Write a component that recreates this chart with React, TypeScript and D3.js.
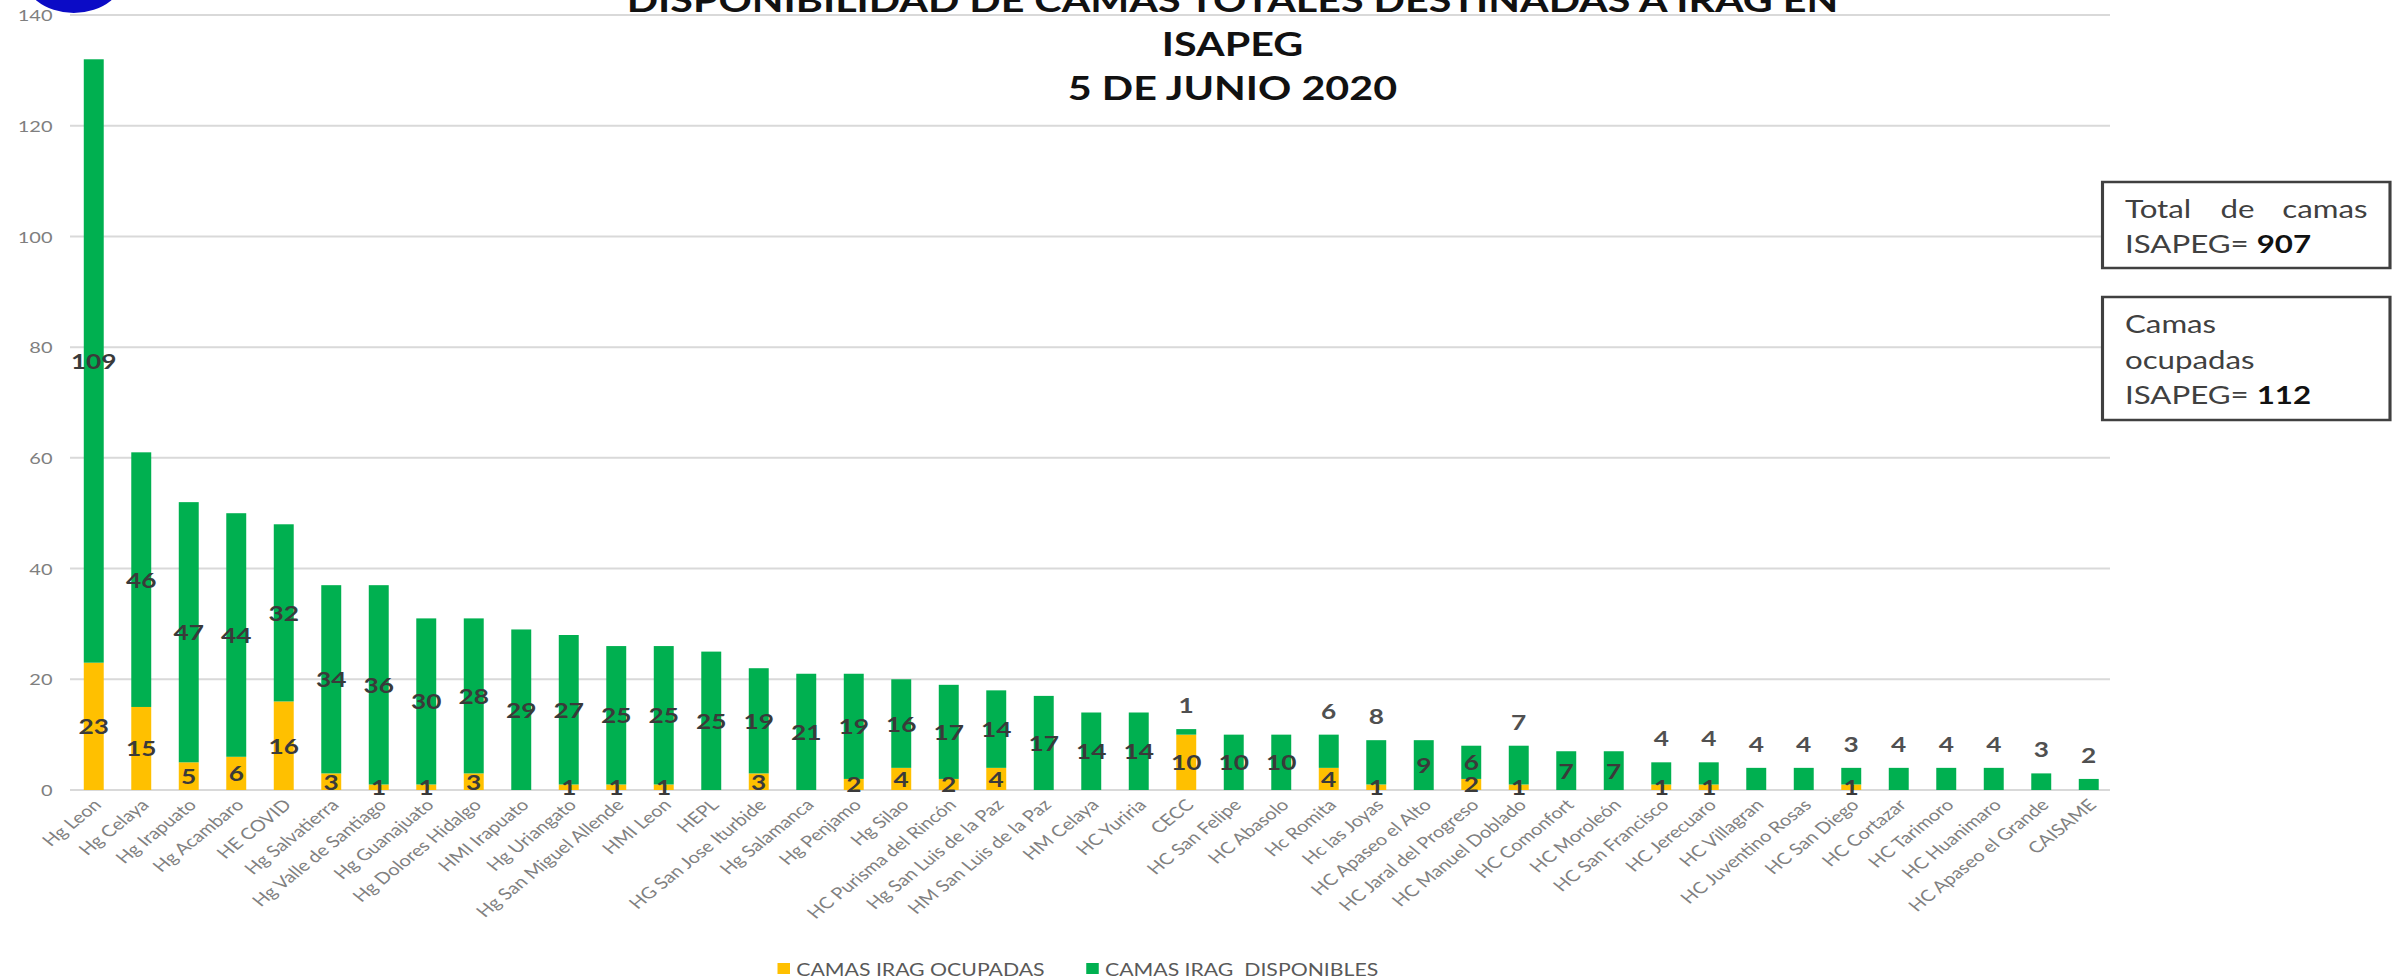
import * as d3 from "d3";

// Hospitals (x axis), in the order shown
const categories = [
  "Hg Leon", "Hg Celaya", "Hg Irapuato", "Hg Acambaro", "HE COVID",
  "Hg Salvatierra", "Hg Valle de Santiago", "Hg Guanajuato", "Hg Dolores Hidalgo",
  "HMI Irapuato", "Hg Uriangato", "Hg San Miguel Allende", "HMI Leon", "HEPL",
  "HG San Jose Iturbide", "Hg Salamanca", "Hg Penjamo", "Hg Silao",
  "HC Purisma del Rincón", "Hg San Luis de la Paz", "HM San Luis de la Paz",
  "HM Celaya", "HC Yuriria", "CECC", "HC San Felipe", "HC Abasolo", "Hc Romita",
  "Hc las Joyas", "HC Apaseo el Alto", "HC Jaral del Progreso", "HC Manuel Doblado",
  "HC Comonfort", "HC Moroleón", "HC San Francisco", "HC Jerecuaro", "HC Villagran",
  "HC Juventino Rosas", "HC San Diego", "HC Cortazar", "HC Tarimoro", "HC Huanimaro",
  "HC Apaseo el Grande", "CAISAME",
];

const ocupadas = [
  23, 15, 5, 6, 16, 3, 1, 1, 3, 0, 1, 1, 1, 0, 3, 0, 2, 4, 2, 4, 0, 0, 0, 10, 0, 0,
  4, 1, 0, 2, 1, 0, 0, 1, 1, 0, 0, 1, 0, 0, 0, 0, 0,
];

const disponibles = [
  109, 46, 47, 44, 32, 34, 36, 30, 28, 29, 27, 25, 25, 25, 19, 21, 19, 16, 17, 14, 17,
  14, 14, 1, 10, 10, 6, 8, 9, 6, 7, 7, 7, 4, 4, 4, 4, 3, 4, 4, 4, 3, 2,
];

// bars whose "disponibles" label sits above the bar
const labelOutside = [
  "CECC", "Hc Romita", "Hc las Joyas", "HC Manuel Doblado", "HC San Francisco",
  "HC Jerecuaro", "HC Villagran", "HC Juventino Rosas", "HC San Diego", "HC Cortazar",
  "HC Tarimoro", "HC Huanimaro", "HC Apaseo el Grande", "CAISAME",
];

const yTicks = [0, 20, 40, 60, 80, 100, 120, 140];

const titleLines = [
  "DISPONIBILIDAD DE CAMAS TOTALES DESTINADAS A IRAG EN",
  "ISAPEG",
  "5 DE JUNIO 2020",
];

const seriesNames = ["CAMAS IRAG OCUPADAS", "CAMAS IRAG\u00a0\u00a0DISPONIBLES"];

const totalCamas = 907;
const camasOcupadas = 112;

const YELLOW = "#FFC000";
const GREEN = "#00B050";
const FONT = "Lato, 'Open Sans', sans-serif";

// the picture is a slide stretched sideways: draw in a 1920 wide box, show at 2400
const VW = 1920;
const VH = 980;

export default function App() {
  const plotLeft = 56;
  const plotRight = 1690;
  const baseY = 790;
  const topY = 15;

  const x = d3
    .scaleBand<string>()
    .domain(categories)
    .range([plotLeft, plotRight])
    .paddingInner(0.58)
    .paddingOuter(0.29);
  const y = d3.scaleLinear().domain([0, 140]).range([baseY, topY]);
  const bw = x.bandwidth();

  return (
    <svg
      width={2400}
      height={980}
      viewBox={`0 0 ${VW} ${VH}`}
      preserveAspectRatio="none"
      style={{ position: "fixed", left: 0, top: 0, display: "block", background: "#fff" }}
      fontFamily={FONT}
    >
      <rect x={0} y={0} width={VW} height={VH} fill="#fff" />

      {/* logo remnant */}
      <circle cx={59} cy={-29} r={42} fill="#0b0bc6" />

      {/* grid */}
      {yTicks.map((t) => (
        <g key={t}>
          <line
            x1={plotLeft}
            x2={plotRight - 2}
            y1={y(t)}
            y2={y(t)}
            stroke="#d9d9d9"
            strokeWidth={2}
          />
          <text
            x={42}
            y={y(t)}
            textAnchor="end"
            dominantBaseline="central"
            fontSize={16}
            fill="#7f7f7f"
          >
            {t}
          </text>
        </g>
      ))}

      {/* title */}
      {titleLines.map((t, i) => (
        <text
          key={t}
          x={986}
          y={12 + i * 44}
          textAnchor="middle"
          fontSize={33}
          fontWeight={700}
          fill="#111"
        >
          {t}
        </text>
      ))}

      {/* bars */}
      {categories.map((c, i) => {
        const x0 = x(c) ?? 0;
        const oc = ocupadas[i];
        const di = disponibles[i];
        return (
          <g key={c}>
            <rect x={x0} y={y(oc)} width={bw} height={y(0) - y(oc)} fill={YELLOW} />
            <rect x={x0} y={y(oc + di)} width={bw} height={y(oc) - y(oc + di)} fill={GREEN} />
          </g>
        );
      })}

      {/* data labels */}
      {categories.map((c, i) => {
        const cx = (x(c) ?? 0) + bw / 2;
        const oc = ocupadas[i];
        const di = disponibles[i];
        const outside = labelOutside.includes(c);
        const gy = outside ? y(oc + di) - 24 : y(oc + di / 2);
        return (
          <g key={c} fontSize={21} fontWeight={700} textAnchor="middle" dominantBaseline="central">
            {oc > 0 && (
              <text x={cx} y={y(oc / 2)} fill="#3a3a3a">
                {oc}
              </text>
            )}
            <text x={cx} y={gy} fill={outside ? "#505050" : "#3a3a3a"}>
              {di}
            </text>
          </g>
        );
      })}

      {/* category labels */}
      {categories.map((c) => {
        const cx = (x(c) ?? 0) + bw / 2;
        return (
          <text
            key={c}
            transform={`translate(${cx + 7},${baseY + 16}) rotate(-45)`}
            textAnchor="end"
            fontSize={16}
            fill="#808080"
          >
            {c}
          </text>
        );
      })}

      {/* legend */}
      <g fontSize={17} fill="#595959">
        <rect x={622} y={963} width={10} height={11} fill={YELLOW} />
        <text x={637} y={969} dominantBaseline="central">
          {seriesNames[0]}
        </text>
        <rect x={869} y={963} width={10} height={11} fill={GREEN} />
        <text x={884} y={969} dominantBaseline="central">
          {seriesNames[1]}
        </text>
      </g>

      {/* note boxes */}
      <g fontSize={25} fill="#404040">
        <rect x={1682} y={182} width={230} height={86} fill="#fff" stroke="#404040" strokeWidth={2.5} />
        <text x={1700} y={218}>Total</text>
        <text x={1790} y={218} textAnchor="middle">de</text>
        <text x={1894} y={218} textAnchor="end">camas</text>
        <text x={1700} y={253}>
          ISAPEG={" "}
          <tspan fontWeight={700} fill="#111">
            {totalCamas}
          </tspan>
        </text>

        <rect x={1682} y={297} width={230} height={123} fill="#fff" stroke="#404040" strokeWidth={2.5} />
        <text x={1700} y={333}>Camas</text>
        <text x={1700} y={369}>ocupadas</text>
        <text x={1700} y={404}>
          ISAPEG={" "}
          <tspan fontWeight={700} fill="#111">
            {camasOcupadas}
          </tspan>
        </text>
      </g>
    </svg>
  );
}
